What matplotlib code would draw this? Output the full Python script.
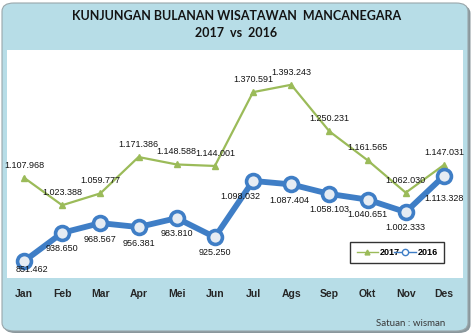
import matplotlib

matplotlib.use("Agg")
import matplotlib.pyplot as plt
from matplotlib.patches import FancyBboxPatch

BG = "#b7dde7"
GREEN = "#9bbb59"
BLUE = "#3f7ec6"
TXT = "#141414"

months = ["Jan", "Feb", "Mar", "Apr", "Mei", "Jun", "Jul", "Ags", "Sep", "Okt", "Nov", "Des"]
v2017 = [1107968, 1023388, 1059777, 1171386, 1148588, 1144001,
         1370591, 1393243, 1250231, 1161565, 1062030, 1147031]
v2016 = [851462, 938650, 968567, 956381, 983810, 925250,
         1098032, 1087404, 1058103, 1040651, 1002333, 1113328]
# label offsets (points) for the 2016 series, tweaked per point like the source
off2016 = [(6, -6), (0, -11.5), (0, -11.5), (0, -11.5), (0, -11), (0, -11),
           (-9, -11), (-1, -11.5), (0, -11.5), (0, -11), (0, -11), (0, -16.5)]


def fmt(v):
    return f"{v:,}".replace(",", ".")


plt.rcParams["font.family"] = ["Liberation Sans", "DejaVu Sans"]

fig = plt.figure(figsize=(4.73, 3.34), dpi=100)
fig.patch.set_facecolor("white")

W, H = 473.0, 334.0
shadow = FancyBboxPatch((3.5 / W, 1.0 / H), 467 / W, 328 / H,
                        boxstyle="round,pad=0,rounding_size=0.025",
                        transform=fig.transFigure, facecolor="#8a979c",
                        edgecolor="none", zorder=0)
frame = FancyBboxPatch((2 / W, 3 / H), 466 / W, 328 / H,
                       boxstyle="round,pad=0,rounding_size=0.025",
                       transform=fig.transFigure, facecolor=BG,
                       edgecolor="#9aa7ab", linewidth=0.8, zorder=1)
fig.patches.extend([shadow, frame])

ax = fig.add_axes([7 / W, (H - 278) / H, 456 / W, 228 / H])
ax.set_facecolor("white")
ax.set_zorder(2)
for s in ax.spines.values():
    s.set_visible(False)

x = list(range(len(months)))
ax.plot(x, v2017, color=GREEN, linewidth=1.6, marker="^", markersize=5,
        markerfacecolor=GREEN, markeredgecolor=GREEN, label="2017", zorder=3)
ax.plot(x, v2016, color=BLUE, linewidth=4.2, marker="o", markersize=10,
        markerfacecolor="#e6ecf3", markeredgecolor=BLUE, markeredgewidth=2.6,
        label="2016", zorder=4)

for i, v in enumerate(v2017):
    ax.annotate(fmt(v), (i, v), xytext=(0, 9), textcoords="offset points",
                ha="center", va="center", fontsize=6.5, color=TXT, zorder=5)
for i, v in enumerate(v2016):
    ax.annotate(fmt(v), (i, v), xytext=off2016[i], textcoords="offset points",
                ha="center", va="center", fontsize=6.5, color=TXT, zorder=5)

ax.set_xlim(-0.445, 11.5)
ax.set_ylim(800000, 1500000)
ax.set_yticks([])
ax.set_xticks(x)
ax.set_xticklabels(months, fontsize=7.5, fontweight="bold", color="#262626")
ax.tick_params(axis="x", length=0, pad=8)

leg = ax.legend(loc="center", bbox_to_anchor=(0.743, 0.061, 0.226, 0.101),
                mode="expand", ncol=2, frameon=True, fancybox=False,
                fontsize=6.5, handlelength=2.4, handletextpad=0.2,
                columnspacing=1.0, borderpad=0.7)
leg.get_frame().set_edgecolor("black")
leg.get_frame().set_linewidth(1.0)
h17, h16 = leg.legend_handles
h17.set_linewidth(1.0)
h17.set_markersize(3.5)
h16.set_linewidth(1.0)
h16.set_markersize(4.5)
h16.set_markeredgewidth(1.0)
h16.set_markerfacecolor("white")
for t in leg.get_texts():
    t.set_fontweight("bold")

fig.text(0.5, 1 - 16 / H, "KUNJUNGAN BULANAN WISATAWAN  MANCANEGARA",
         ha="center", va="center", fontsize=9, fontweight="bold",
         color=TXT, family=["Lato", "DejaVu Sans"])
fig.text(0.5, 1 - 33 / H, "2017  vs  2016", ha="center", va="center",
         fontsize=9, fontweight="bold", color=TXT, family=["Lato", "DejaVu Sans"])
fig.text(445 / W, 1 - 323 / H, "Satuan : wisman", ha="right", va="center",
         fontsize=7, color="#3a3a3a", family=["Lato", "DejaVu Sans"])

fig.savefig("out.png", dpi=100)
